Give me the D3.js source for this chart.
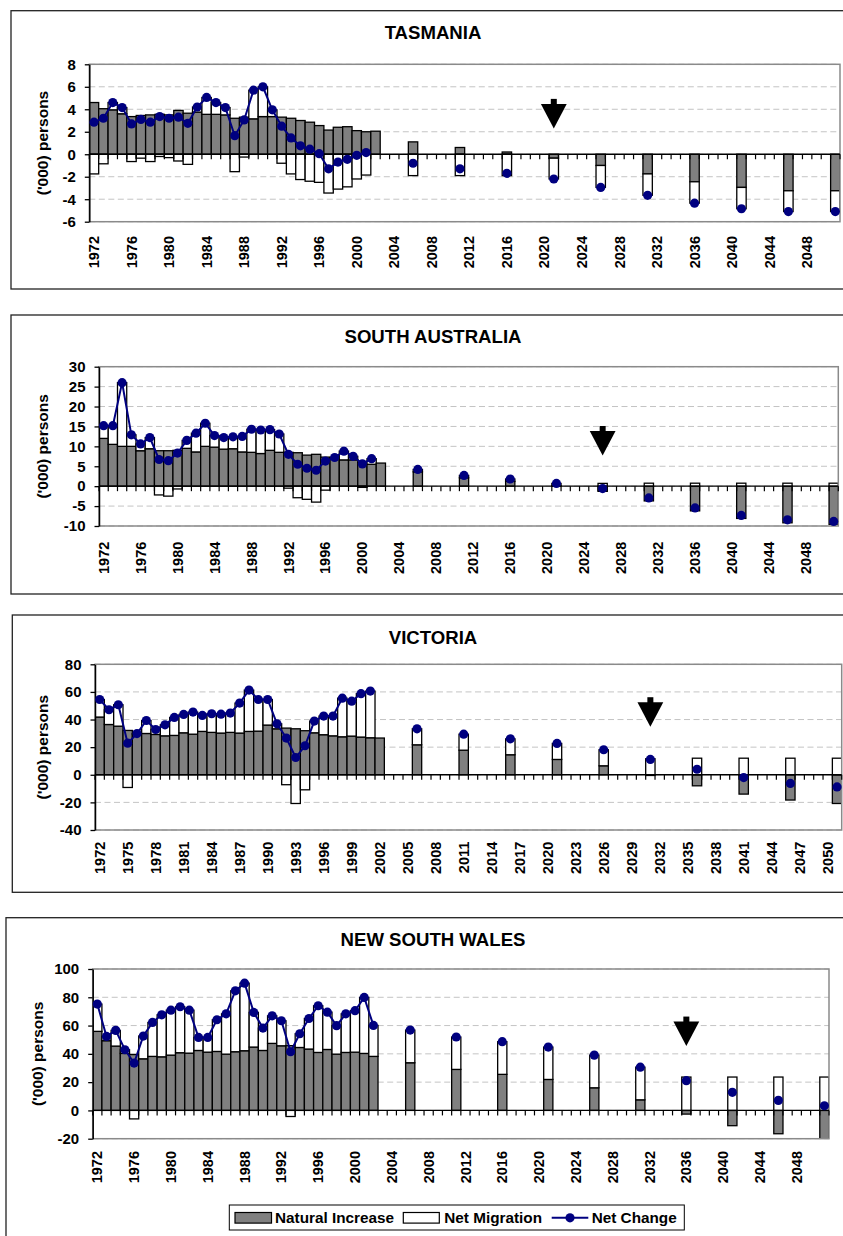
<!DOCTYPE html>
<html>
<head>
<meta charset="utf-8">
<script src="https://cdn.jsdelivr.net/npm/d3@7"></script>
<style>
  html, body { margin: 0; padding: 0; background: #fff; }
  svg { display: block; }
  text { font-family: "Liberation Sans", Arial, sans-serif; font-weight: bold; fill: #000; }
</style>
</head>
<body>
<svg id="chart" width="843" height="1236"></svg>
<script>
// ---- Data ('000 persons) ----
const histYears = [1972,1973,1974,1975,1976,1977,1978,1979,1980,1981,1982,1983,1984,1985,1986,1987,
  1988,1989,1990,1991,1992,1993,1994,1995,1996,1997,1998,1999,2000,2001,2002];
const projYears = [2006,2011,2016,2021,2026,2031,2036,2041,2046,2051];
const dataYears = histYears.concat(projYears);

const tickYearsBy4 = [1972,1976,1980,1984,1988,1992,1996,2000,2004,2008,2012,2016,2020,2024,2028,2032,2036,2040,2044,2048];
const tickYearsBy3 = [1972,1975,1978,1981,1984,1987,1990,1993,1996,1999,2002,2005,2008,2011,2014,2017,2020,2023,2026,2029,2032,2035,2038,2041,2044,2047,2050];

const seriesNames = ["Natural Increase", "Net Migration", "Net Change"];
const stateTitles = ["TASMANIA", "SOUTH AUSTRALIA", "VICTORIA", "NEW SOUTH WALES"];

const tasTicks = [-6,-4,-2,0,2,4,6,8];
const saTicks  = [-10,-5,0,5,10,15,20,25,30];
const vicTicks = [-40,-20,0,20,40,60,80];
const nswTicks = [-20,0,20,40,60,80,100];

const tasNatural = [4.6,4.05,3.95,3.6,3.35,3.45,3.5,3.55,3.5,3.9,3.65,3.75,3.55,3.55,3.5,3.2,3.3,3.15,3.35,3.35,3.3,3.2,3.0,2.85,2.55,2.15,2.4,2.45,2.1,2.0,2.05,
  1.1,0.6,0.2,-0.35,-1.0,-1.75,-2.45,-2.95,-3.25,-3.25];
const tasMigration = [-1.75,-0.85,0.65,0.55,-0.65,-0.35,-0.65,-0.2,-0.3,-0.6,-0.9,0.45,1.5,1.05,0.65,-1.55,-0.25,2.55,2.65,0.6,-0.8,-1.75,-2.25,-2.4,-2.5,-3.45,-3.1,-2.9,-2.2,-1.85,null,
  -1.9,-1.9,-1.9,-1.85,-1.95,-1.9,-1.9,-1.9,-1.85,-1.85];
const tasChange = [2.85,3.2,4.6,4.15,2.7,3.1,2.85,3.35,3.2,3.3,2.75,4.2,5.05,4.6,4.15,1.65,3.05,5.7,6.0,3.95,2.5,1.45,0.75,0.45,0.05,-1.3,-0.7,-0.45,-0.1,0.15,null,
  -0.8,-1.3,-1.7,-2.2,-2.95,-3.65,-4.35,-4.85,-5.1,-5.1];

const saNatural = [12.0,10.5,10.0,10.0,8.9,9.4,8.9,8.9,9.0,9.5,8.6,10.0,9.8,9.3,9.4,8.6,8.5,8.2,9.0,8.5,8.5,8.4,7.8,8.0,7.3,7.0,6.6,6.6,5.9,5.5,5.8,
  3.6,2.1,1.2,0.1,-1.3,-3.7,-6.2,-8.1,-9.2,-9.6];
const saMigration = [3.2,4.7,16.0,2.9,1.7,2.8,-2.2,-2.5,-0.7,2.0,4.7,5.8,2.9,2.9,3.0,3.9,5.8,5.9,5.2,4.6,-0.5,-2.9,-3.3,-4.0,-1.0,0.2,2.2,0.9,-0.3,1.4,null,
  0.6,0.6,0.6,0.6,0.7,0.75,0.75,0.75,0.75,0.75];
const saChange = [15.2,15.2,26.0,12.9,10.6,12.2,6.7,6.4,8.3,11.5,13.3,15.8,12.7,12.2,12.4,12.5,14.3,14.1,14.2,13.1,8.0,5.5,4.5,4.0,6.3,7.2,8.8,7.5,5.6,6.9,null,
  4.2,2.7,1.8,0.7,-0.6,-2.95,-5.45,-7.35,-8.45,-8.85];

const vicNatural = [41.8,36.4,35.2,32.1,29.5,29.9,29.2,28.2,28.5,30.4,29.4,31.4,30.7,30.2,30.7,30.2,31.4,31.6,36.0,33.3,33.8,33.3,31.9,30.4,29.0,28.2,27.5,28.0,27.3,26.8,26.6,
  21.7,17.8,14.5,11.1,6.5,-0.5,-8.0,-14.0,-18.3,-20.8];
const vicMigration = [12.7,10.7,15.5,-9.2,0.3,9.4,3.6,8.0,13.0,13.3,16.0,11.6,13.5,13.7,14.0,21.7,29.9,22.9,18.5,3.6,-7.2,-20.8,-10.9,8.5,13.5,14.3,28.0,25.3,31.4,33.8,null,
  11.6,11.6,11.5,11.6,11.6,11.6,12.0,12.0,12.0,12.0];
const vicChange = [54.5,47.1,50.7,22.9,29.8,39.3,32.8,36.2,41.5,43.7,45.4,43.0,44.2,43.9,44.7,51.9,61.3,54.5,54.5,36.9,26.6,12.5,21.0,38.9,42.5,42.5,55.5,53.3,58.7,60.6,null,
  33.3,29.4,26.0,22.7,18.1,11.1,4.0,-2.0,-6.3,-8.8];

const nswNatural = [55.9,49.3,45.5,40.3,39.5,36.5,38.2,37.9,39.1,40.8,40.5,42.4,41.2,41.7,39.8,41.5,42.2,44.8,42.4,47.4,45.7,45.8,44.5,43.4,41.0,43.1,39.8,41.0,41.2,40.3,38.2,
  33.7,29.0,25.5,21.9,16.0,7.5,-2.6,-10.8,-16.5,-20.3];
const nswMigration = [19.3,3.0,11.1,2.6,-6.0,16.1,24.0,29.7,31.8,32.5,30.4,9.2,10.4,22.4,28.5,43.1,47.8,24.5,15.8,19.5,17.7,-4.3,9.7,21.6,33.0,26.4,20.1,27.3,29.3,39.6,21.9,
  23.1,22.9,23.1,22.9,23.1,23.1,23.6,23.6,23.6,23.6];
const nswChange = [75.2,52.3,56.6,42.9,33.5,52.6,62.2,67.6,70.9,73.3,70.9,51.6,51.6,64.1,68.3,84.6,90.0,69.3,58.2,66.9,63.4,41.5,54.2,65.0,74.0,69.5,59.9,68.3,70.5,79.9,60.1,
  56.8,51.9,48.6,44.8,39.1,30.6,21.0,12.8,7.1,3.3];

// Year in which natural increase turns negative, and the value the marker arrow points to
const arrowYears = [2021, 2026, 2031, 2036];
const arrowTips  = [2.3, 7.7, 34.8, 45.5];

// ---- Layout ----
const layout = [
  { box: {x: 11,   y: 10.7,  b: 289},   plot: {l: 89.3, r: 840,   t: 64.3,  b: 221.7},  titleY: 32.7,  labelTop: 236,    yLabelX: 43 },
  { box: {x: 11,   y: 315,   b: 594},   plot: {l: 99,   r: 838.3, t: 366.7, b: 526},    titleY: 336.7, labelTop: 541.7,  yLabelX: 43 },
  { box: {x: 12.3, y: 615,   b: 892.3}, plot: {l: 95,   r: 841.7, t: 664.3, b: 830},    titleY: 637,   labelTop: 841.7,  yLabelX: 43 },
  { box: {x: 6,    y: 917.7, b: 1250},  plot: {l: 92.7, r: 829,   t: 969,   b: 1138.7}, titleY: 939.3, labelTop: 1151,   yLabelX: 38 }
];

const panels = [
  { natural: tasNatural, migration: tasMigration, change: tasChange, yTicks: tasTicks, xTicks: tickYearsBy4 },
  { natural: saNatural,  migration: saMigration,  change: saChange,  yTicks: saTicks,  xTicks: tickYearsBy4 },
  { natural: vicNatural, migration: vicMigration, change: vicChange, yTicks: vicTicks, xTicks: tickYearsBy3 },
  { natural: nswNatural, migration: nswMigration, change: nswChange, yTicks: nswTicks, xTicks: tickYearsBy4 }
];

const GRAY = "#808080", NAVY = "#000080";
const allYears = d3.range(1972, 2052);
const svg = d3.select("#chart");

panels.forEach((p, i) => {
  const L = layout[i];
  const g = svg.append("g");

  // outer frame
  g.append("rect")
    .attr("x", L.box.x).attr("y", L.box.y)
    .attr("width", 900).attr("height", L.box.b - L.box.y)
    .attr("fill", "#fff").attr("stroke", "#222").attr("stroke-width", 1.3);

  // title
  g.append("text").attr("x", 433).attr("y", L.titleY).attr("dy", "0.35em")
    .attr("text-anchor", "middle").style("font-size", "18.6px").text(stateTitles[i]);

  const x = d3.scaleBand().domain(allYears).range([L.plot.l, L.plot.r]).padding(0);
  const bw = x.bandwidth();
  const y = d3.scaleLinear()
    .domain([p.yTicks[0], p.yTicks[p.yTicks.length - 1]])
    .range([L.plot.b, L.plot.t]);

  // dashed gridlines
  g.append("g").selectAll("line").data(p.yTicks).join("line")
    .attr("x1", L.plot.l).attr("x2", L.plot.r)
    .attr("y1", d => y(d)).attr("y2", d => y(d))
    .attr("stroke", "#c4c4c4").attr("stroke-width", 1).attr("stroke-dasharray", "6,3.5");

  // clip to plot area
  const clipId = "clip" + i;
  g.append("clipPath").attr("id", clipId).append("rect")
    .attr("x", L.plot.l).attr("y", L.plot.t)
    .attr("width", L.plot.r - L.plot.l).attr("height", L.plot.b - L.plot.t);

  const rows = dataYears.map((yr, k) => ({ yr, ni: p.natural[k], nm: p.migration[k], nc: p.change[k] }));

  // stacked columns: positives stack upward, negatives downward
  const segs = [];
  rows.forEach(r => {
    segs.push({ yr: r.yr, y0: 0, y1: r.ni, fill: GRAY });
    if (r.nm != null) {
      const base = r.nm >= 0 ? Math.max(r.ni, 0) : Math.min(r.ni, 0);
      segs.push({ yr: r.yr, y0: base, y1: base + r.nm, fill: "#fff" });
    }
  });
  g.append("g").attr("clip-path", `url(#${clipId})`)
    .selectAll("rect").data(segs).join("rect")
    .attr("x", d => x(d.yr)).attr("width", bw)
    .attr("y", d => y(Math.max(d.y0, d.y1)))
    .attr("height", d => Math.abs(y(d.y0) - y(d.y1)))
    .attr("fill", d => d.fill).attr("stroke", "#000").attr("stroke-width", 1.3);

  // plot area border
  g.append("rect")
    .attr("x", L.plot.l).attr("y", L.plot.t)
    .attr("width", L.plot.r - L.plot.l).attr("height", L.plot.b - L.plot.t)
    .attr("fill", "none").attr("stroke", "#8a8a8a").attr("stroke-width", 1.5);

  // category axis at zero with ticks between categories
  const y0 = y(0);
  g.append("line").attr("x1", L.plot.l).attr("x2", L.plot.r).attr("y1", y0).attr("y2", y0)
    .attr("stroke", "#000").attr("stroke-width", 1.3);
  const bounds = allYears.map(yr => x(yr)).concat([L.plot.r]);
  g.append("g").selectAll("line").data(bounds).join("line")
    .attr("x1", d => d).attr("x2", d => d).attr("y1", y0).attr("y2", y0 + 5)
    .attr("stroke", "#000").attr("stroke-width", 1.2);

  // value axis
  const yAxis = g.append("g").attr("transform", `translate(${L.plot.l},0)`)
    .call(d3.axisLeft(y).tickValues(p.yTicks).tickSize(4.5).tickSizeOuter(0).tickPadding(9)
      .tickFormat(d => String(d)));
  yAxis.select(".domain").attr("stroke", "#000").attr("stroke-width", 1.5);
  yAxis.selectAll(".tick line").attr("stroke", "#000").attr("stroke-width", 1.3);
  yAxis.selectAll(".tick text").attr("fill", "#000")
    .style("font-family", "'Liberation Sans', Arial, sans-serif")
    .style("font-weight", "bold").style("font-size", "15px");

  // y axis title
  const midY = (L.plot.t + L.plot.b) / 2;
  g.append("text")
    .attr("transform", `translate(${L.yLabelX},${midY}) rotate(-90)`)
    .attr("text-anchor", "middle").attr("dy", "0.35em")
    .style("font-size", "15.5px").text("('000) persons");

  // category labels, rotated
  g.append("g").selectAll("text").data(p.xTicks).join("text")
    .attr("transform", d => `translate(${x(d) + bw / 2},${L.labelTop}) rotate(-90)`)
    .attr("text-anchor", "end").attr("dy", "0.35em")
    .style("font-size", "14.5px").text(d => d);

  // net change line and markers
  const byYear = new Map(rows.map(r => [r.yr, r.nc]));
  const full = allYears.map(yr => ({ yr, v: byYear.has(yr) ? byYear.get(yr) : null }));
  const line = d3.line().defined(d => d.v != null)
    .x(d => x(d.yr) + bw / 2).y(d => y(d.v));
  g.append("path").datum(full).attr("d", line)
    .attr("fill", "none").attr("stroke", NAVY).attr("stroke-width", 2);
  g.append("g").selectAll("circle").data(full.filter(d => d.v != null)).join("circle")
    .attr("cx", d => x(d.yr) + bw / 2).attr("cy", d => y(d.v)).attr("r", 4.6)
    .attr("fill", NAVY);

  // marker arrow
  const ax = x(arrowYears[i]) + bw / 2, ty = y(arrowTips[i]);
  g.append("rect").attr("x", ax - 3).attr("y", ty - 29.5).attr("width", 6).attr("height", 7).attr("fill", "#000");
  g.append("path").attr("d", `M${ax - 12.9},${ty - 24.5}L${ax + 12.9},${ty - 24.5}L${ax},${ty}Z`).attr("fill", "#000");
});

// ---- Legend ----
const leg = svg.append("g");
leg.append("rect").attr("x", 229.3).attr("y", 1205).attr("width", 455).attr("height", 25)
  .attr("fill", "#fff").attr("stroke", "#000").attr("stroke-width", 1);
const ly = 1217.8;
leg.append("rect").attr("x", 235).attr("y", ly - 5.3).attr("width", 36.5).attr("height", 10.6)
  .attr("fill", GRAY).attr("stroke", "#000").attr("stroke-width", 1.2);
leg.append("text").attr("x", 275).attr("y", ly).attr("dy", "0.35em").style("font-size", "15.3px").text(seriesNames[0]);
leg.append("rect").attr("x", 403.3).attr("y", ly - 5.3).attr("width", 36).attr("height", 10.6)
  .attr("fill", "#fff").attr("stroke", "#000").attr("stroke-width", 1.2);
leg.append("text").attr("x", 444.3).attr("y", ly).attr("dy", "0.35em").style("font-size", "15.3px").text(seriesNames[1]);
leg.append("line").attr("x1", 551.7).attr("x2", 588.3).attr("y1", ly).attr("y2", ly)
  .attr("stroke", NAVY).attr("stroke-width", 2);
leg.append("circle").attr("cx", 570).attr("cy", ly).attr("r", 4.6).attr("fill", NAVY);
leg.append("text").attr("x", 591.7).attr("y", ly).attr("dy", "0.35em").style("font-size", "15.3px").text(seriesNames[2]);
</script>
</body>
</html>
